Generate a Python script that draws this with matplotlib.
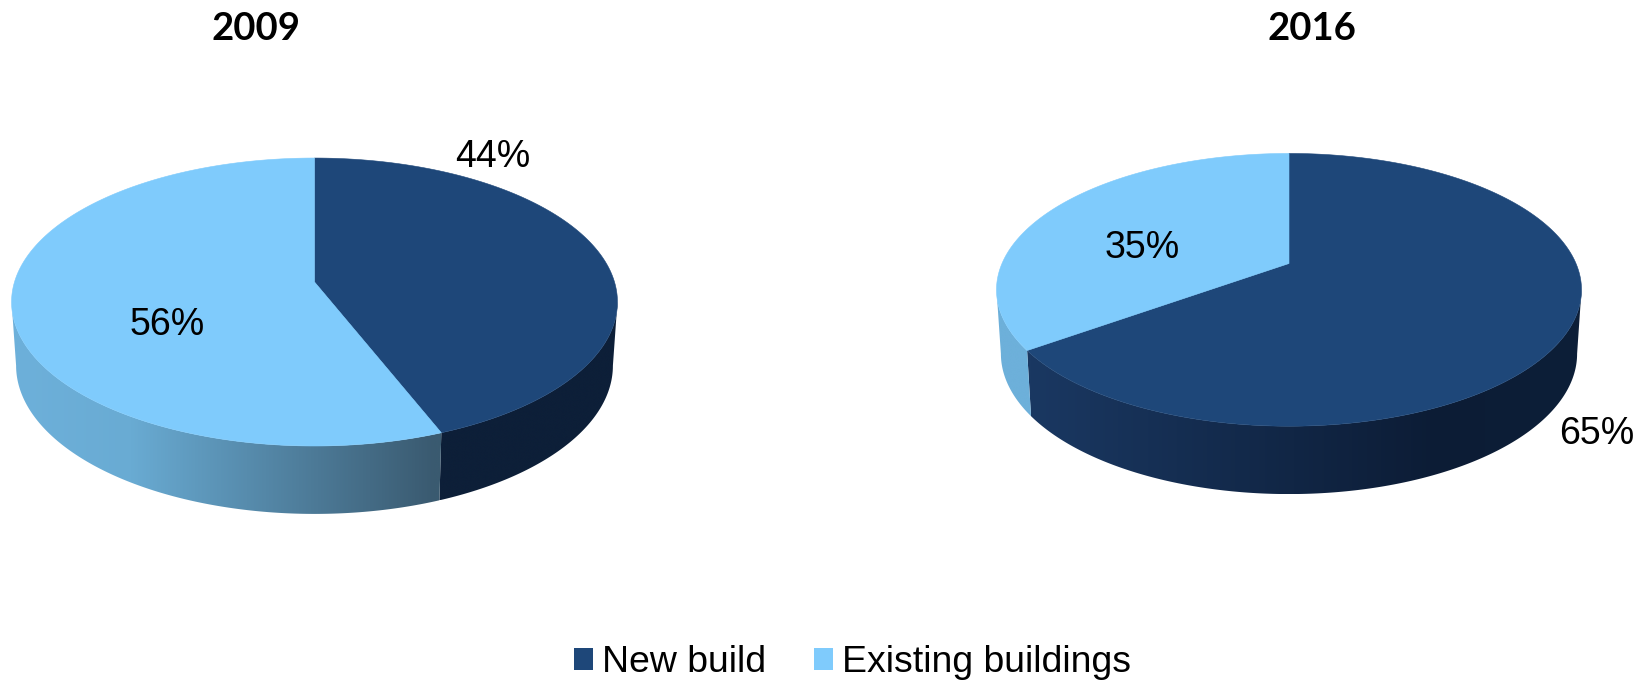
import numpy as np
import matplotlib
matplotlib.use("Agg")
import matplotlib.pyplot as plt
from matplotlib.colors import LinearSegmentedColormap
from matplotlib.patches import Patch, Polygon

plt.rcParams['font.family'] = ['Liberation Sans', 'DejaVu Sans']

years = ["2009", "2016"]
categories = ["New build", "Existing buildings"]
shares_2009 = [44, 56]
shares_2016 = [65, 35]

DARK_TOP = "#1E4779"
LIGHT_TOP = "#7FCBFC"
LIGHT_SIDE = "#6DB0DA"
DARK_SIDE = "#0D1F38"

DEPTH = 63        # drop of the lower rim centre
LOWER_X = 0.985   # the lower rim looks a bit narrower...
LOWER_Y = 1.03    # ...and a bit more open


def project(theta, disc, lower=False):
    # theta runs clockwise from 12 o'clock, in degrees
    t = np.radians(theta)
    u, v = np.sin(t), np.cos(t)
    w = 1 + disc["k"] * v
    sx = LOWER_X if lower else 1.0
    sy = LOWER_Y if lower else 1.0
    dy = DEPTH if lower else 0
    x = disc["cx"] + sx * disc["a"] * u / w
    y = disc["cy"] + dy - sy * disc["b"] * v / w
    return x, y


def side_wall(ax, disc, start, end, colors):
    # wall between the two rims, shaded left to right through a clipped image
    theta = np.linspace(start, end, 200)
    xu, yu = project(theta, disc)
    xl, yl = project(theta, disc, lower=True)
    pts = np.column_stack([np.r_[xu, xl[::-1]], np.r_[yu, yl[::-1]]])
    wall = Polygon(pts, closed=True, fc="none", ec="none", transform=ax.transData)
    ax.add_patch(wall)
    x0, x1 = pts[:, 0].min(), pts[:, 0].max()
    y0, y1 = pts[:, 1].min(), pts[:, 1].max()
    # stops are given in figure x, so rescale them to this wall
    stops = [(min(max((x - x0) / (x1 - x0), 0), 1), c) for x, c in colors]
    stops = [(0, stops[0][1])] + stops + [(1, stops[-1][1])]
    cmap = LinearSegmentedColormap.from_list("wall", stops)
    img = ax.imshow(np.linspace(0, 1, 512).reshape(1, -1), cmap=cmap, aspect="auto",
                    extent=(x0, x1, y1, y0), interpolation="bilinear", zorder=1)
    img.set_clip_path(wall)


def draw_pie(ax, shares, disc, dark_wall, light_wall):
    split = shares[0] / sum(shares) * 360

    # the wall runs between the widest points of the rims
    widest = np.degrees(np.arccos(-disc["k"]))
    side_wall(ax, disc, widest, split, dark_wall)
    side_wall(ax, disc, split, 360 - widest, light_wall)

    for start, end, color in [(0, split, DARK_TOP), (split, 360, LIGHT_TOP)]:
        theta = np.linspace(start, end, 300)
        x, y = project(theta, disc)
        pts = np.column_stack([np.r_[disc["cx"], x], np.r_[disc["cy"], y]])
        ax.add_patch(Polygon(pts, closed=True, fc=color, ec=color, lw=0.4, zorder=2))


fig = plt.figure(figsize=(16.52, 6.81), dpi=100)
ax = fig.add_axes([0, 0, 1, 1])

disc_2009 = {"cx": 314.5, "cy": 282, "a": 300, "b": 141.2, "k": 0.139}
disc_2016 = {"cx": 1289, "cy": 263.5, "a": 287, "b": 131.3, "k": 0.193}

draw_pie(ax, shares_2009, disc_2009,
         [(434, DARK_SIDE), (613, DARK_SIDE)],
         [(19, LIGHT_SIDE), (130, "#69ABD3"), (434, "#3A5A70")])
draw_pie(ax, shares_2016, disc_2016,
         [(1030, "#1A3862"), (1440, "#0C1C35"), (1575, DARK_SIDE)],
         [(1004, LIGHT_SIDE), (1034, LIGHT_SIDE)])

ax.set_xlim(0, 1652)
ax.set_ylim(681, 0)
ax.axis("off")

# titles
for year, x in zip(years, [256, 1312]):
    ax.text(x, 29.5, year, family="Lato", weight="bold", fontsize=27.5,
            ha="center", va="center", zorder=3)

# share labels
label_size = 27
ax.text(493, 157, f"{shares_2009[0]}%", fontsize=label_size, ha="center", va="center", zorder=3)
ax.text(167.5, 325, f"{shares_2009[1]}%", fontsize=label_size, ha="center", va="center", zorder=3)
ax.text(1597, 434, f"{shares_2016[0]}%", fontsize=label_size, ha="center", va="center", zorder=3)
ax.text(1142, 248.5, f"{shares_2016[1]}%", fontsize=label_size, ha="center", va="center", zorder=3)

handles = [Patch(fc=DARK_TOP, ec="none"), Patch(fc=LIGHT_TOP, ec="none")]
ax.legend(handles, categories, loc="center", bbox_to_anchor=(852.5 / 1652, 1 - 663 / 681),
          ncol=2, frameon=False, fontsize=26.9, handlelength=0.51, handleheight=0.51,
          handletextpad=0.24, columnspacing=1.27, borderpad=0, borderaxespad=0)

fig.savefig("out.png", dpi=100)
